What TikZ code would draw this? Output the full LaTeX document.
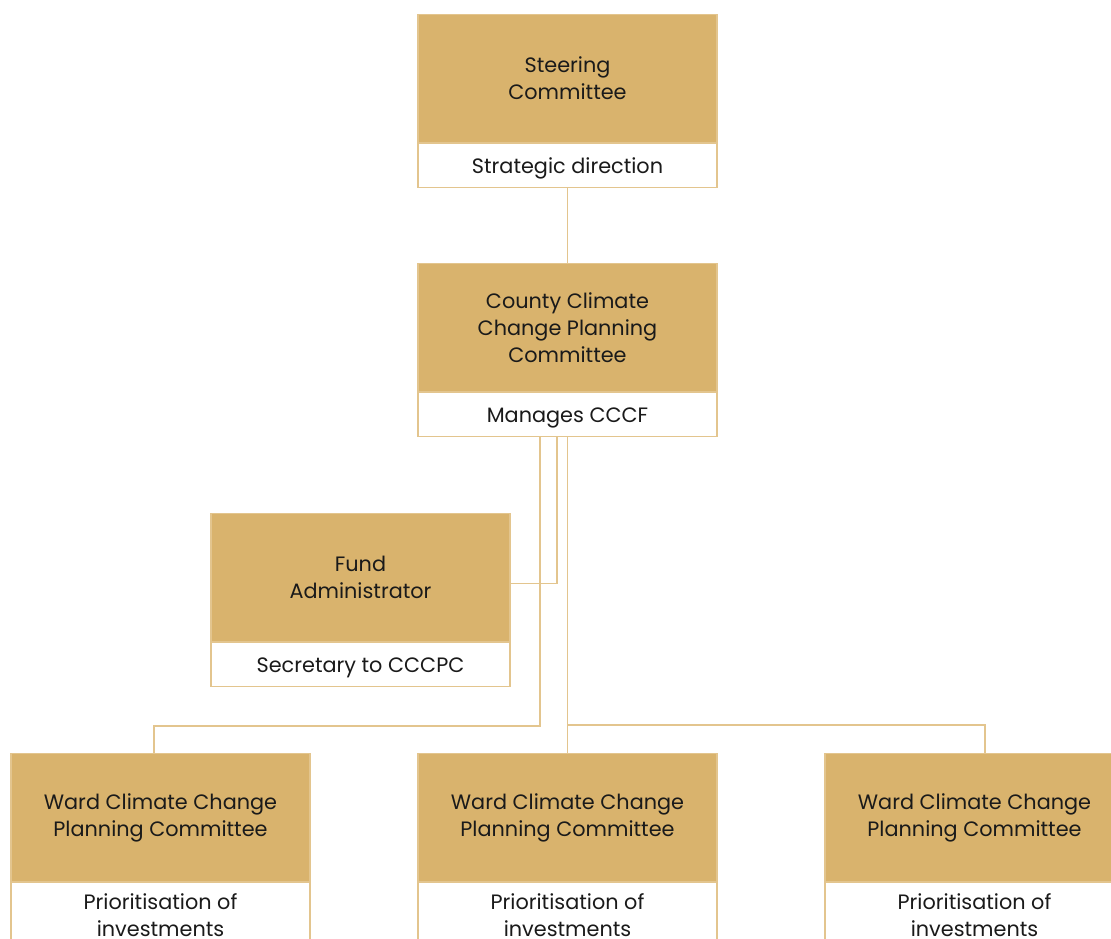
\documentclass[tikz,border=0pt]{standalone}
\usepackage{fontspec}
\setmainfont{Poppins}
\definecolor{goldfill}{HTML}{D9B36D}
\definecolor{goldline}{HTML}{E3C58E}
\definecolor{txt}{HTML}{1A1A1A}
\begin{document}
\begin{tikzpicture}[x=1pt,y=-1pt,
  every node/.style={text=txt, font=\fontsize{20.8}{27}\selectfont},
  goldbox/.style={rectangle, fill=goldfill, draw=goldline, line width=1.2pt, minimum width=299pt, minimum height=128pt, inner sep=0pt, align=center, anchor=north},
  whitebox/.style={rectangle, fill=white, draw=goldline, line width=1.2pt, minimum width=299pt, minimum height=44pt, inner sep=0pt, align=center, anchor=north, text depth=0pt},
  tallwhite/.style={whitebox, minimum height=64pt},
  conn/.style={draw=goldline, line width=1.2pt}]
\useasboundingbox (0,0) rectangle (1111,938);
\clip (0,0) rectangle (1111,938);
% Steering
\node[goldbox] (steer) at (567.5,14) {Steering\\Committee};
\node[whitebox] (steerw) at (steer.south) {Strategic direction};
% CCCPC
\node[goldbox] (cccpc) at (567.5,263) {County Climate\\Change Planning\\Committee};
\node[whitebox] (cccpcw) at (cccpc.south) {Manages CCCF};
% Fund admin
\node[goldbox] (fund) at (360.5,513) {Fund\\Administrator};
\node[whitebox] (fundw) at (fund.south) {Secretary to CCCPC};
% Wards
\node[goldbox] (ward1) at (160.5,753) {\raisebox{-3pt}{\begin{tabular}{@{}c@{}}Ward Climate Change\\Planning Committee\end{tabular}}};
\node[tallwhite] (ward1w) at (ward1.south) {Prioritisation of\\investments};
\node[goldbox] (ward2) at (567.5,753) {\raisebox{-3pt}{\begin{tabular}{@{}c@{}}Ward Climate Change\\Planning Committee\end{tabular}}};
\node[tallwhite] (ward2w) at (ward2.south) {Prioritisation of\\investments};
\node[goldbox] (ward3) at (974.5,753) {\raisebox{-3pt}{\begin{tabular}{@{}c@{}}Ward Climate Change\\Planning Committee\end{tabular}}};
\node[tallwhite] (ward3w) at (ward3.south) {Prioritisation of\\investments};
% connectors
\draw[conn] (steerw.south) -- (cccpc.north);
\draw[conn] ([xshift=-10.5pt]cccpcw.south) |- ([yshift=-5.5pt]fund.east);
\draw[conn] ([xshift=-27.5pt]cccpcw.south) |- ([xshift=-6.5pt,yshift=27pt]ward1.north) -- ([xshift=-6.5pt]ward1.north);
\draw[conn] (cccpcw.south) -- (ward2.north);
\draw[conn] ([yshift=28pt]ward2.north) -| ([xshift=10.5pt]ward3.north);
\end{tikzpicture}
\end{document}
